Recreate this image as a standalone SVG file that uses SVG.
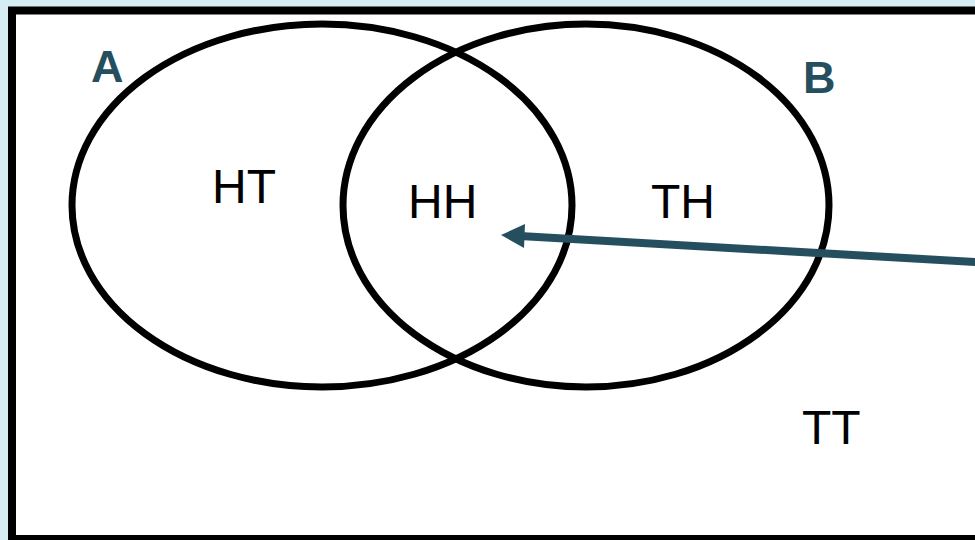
<svg xmlns="http://www.w3.org/2000/svg" width="975" height="540" viewBox="0 0 975 540">
<style>
.lbl{font-family:"Liberation Sans",Arial,sans-serif;font-size:48px;fill:#000}
.set{font-family:"Liberation Sans",Arial,sans-serif;font-size:45px;font-weight:bold;fill:#254f5f}
.circ{fill:none;stroke:#000;stroke-width:7}
</style>
<rect x="0" y="0" width="975" height="540" fill="#d6edf4"/>
<rect x="12" y="10.5" width="980" height="528.5" fill="#fff" stroke="#000" stroke-width="8"/>
<g id="setA">
<ellipse class="circ" cx="322" cy="205.5" rx="250" ry="181.5"/>
<text class="set" x="91" y="82">A</text>
</g>
<g id="setB">
<ellipse class="circ" cx="586" cy="205.5" rx="243" ry="181.5"/>
<text class="set" x="803" y="93">B</text>
</g>
<g id="HT"><text class="lbl" x="212" y="203">HT</text></g>
<g id="HH"><text class="lbl" x="408" y="218">HH</text></g>
<g id="TH"><text class="lbl" x="651" y="218">TH</text></g>
<g id="TT"><text class="lbl" x="802" y="444">TT</text></g>
<g id="connectors">
<line x1="980" y1="262.3" x2="520" y2="236" stroke="#254f5f" stroke-width="8"/>
<polygon points="501,235 525,224 524,248" fill="#254f5f"/>
</g>
</svg>
